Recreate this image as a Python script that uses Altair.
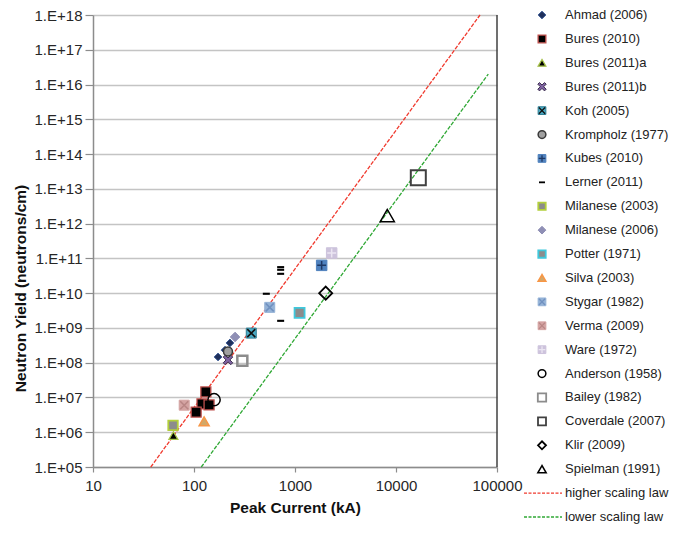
import altair as alt
import pandas as pd

# ---------------- data ----------------
series_names = [
    "Ahmad (2006)", "Bures (2010)", "Bures (2011)a", "Bures (2011)b", "Koh (2005)",
    "Krompholz (1977)", "Kubes (2010)", "Lerner (2011)", "Milanese (2003)", "Milanese (2006)",
    "Potter (1971)", "Silva (2003)", "Stygar (1982)", "Verma (2009)", "Ware (1972)",
    "Anderson (1958)", "Bailey (1982)", "Coverdale (2007)", "Klir (2009)", "Spielman (1991)",
]
# peak current (kA) per series
point_current = [
    [173, 203, 227],
    [131, 120, 141, 105],
    [62.5],
    [217],
    [369],
    [217],
    [1836],
    [520, 721, 721, 721, 721],
    [62],
    [255],
    [1110],
    [126],
    [562],
    [80],
    [2307],
    [158],
    [301],
    [16630],
    [2014],
    [8200],
]
# neutron yield (neutrons/cm) per series
point_yield = [
    [1.46e8, 2.3e8, 3.7e8],
    [1.44e7, 6.5e6, 6.1e6, 3.8e6],
    [8.0e5],
    [1.2e8],
    [7.1e8],
    [2.1e8],
    [6.3e10],
    [9.6e9, 1.6e9, 3.6e10, 4.7e10, 5.6e10],
    [1.58e6],
    [5.5e8],
    [2.7e9],
    [2.06e6],
    [3.9e9],
    [6.0e6],
    [1.43e11],
    [8.6e6],
    [1.14e8],
    [2.1e13],
    [1.0e10],
    [1.7e12],
]
law_names = ["higher scaling law", "lower scaling law"]
law_current = [[37.3, 67900], [118, 82000]]
law_yield = [[1e5, 1e18], [1e5, 2e16]]

x_ticks = [10, 100, 1000, 10000, 100000]
y_ticks = [10 ** k for k in range(5, 19)]

# ---------------- tables ----------------
rows = []
for s, xs, ys in zip(series_names, point_current, point_yield):
    for a, b in zip(xs, ys):
        rows.append({"series": s, "current": a, "yield": b})
pts_df = pd.DataFrame(rows)

lrows = []
for s, xs, ys in zip(law_names, law_current, law_yield):
    for a, b in zip(xs, ys):
        lrows.append({"series": s, "current": a, "yield": b})
law_df = pd.DataFrame(lrows)

legend_names = series_names + law_names
legend_df = pd.DataFrame({"series": legend_names})
edge_df = pd.DataFrame({"edge": [1]})

# ---------------- styles ----------------
X_FILLED = "M-1,-0.6L-0.6,-1L0,-0.4L0.6,-1L1,-0.6L0.4,0L1,0.6L0.6,1L0,0.4L-0.6,1L-1,0.6L-0.4,0Z"
DASH = "M-1,-0.3L1,-0.3L1,0.3L-1,0.3Z"
X_LINES = "M-0.8,-0.8L0.8,0.8M-0.8,0.8L0.8,-0.8"
PLUS_LINES = "M-0.85,0L0.85,0M0,-0.85L0,0.85"

styles = {
    "Ahmad (2006)": dict(shape="diamond", fill="#1f2f5a", stroke="#3a5a96", sw=1, size=60, lsize=60),
    "Bures (2010)": dict(shape="square", fill="#000000", stroke="#c0504d", sw=1.3, size=100, lsize=60),
    "Bures (2011)a": dict(shape="triangle-up", fill="#000000", stroke="#a8c44a", sw=1.3, size=80, lsize=60),
    "Bures (2011)b": dict(shape=X_FILLED, fill="#8064a2", stroke="#3a2d4d", sw=1, size=90, lsize=70),
    "Koh (2005)": dict(shape="square", fill="#4bacc6", stroke="#2f7f95", sw=1, size=100, lsize=60, ov=(X_LINES, "#111111")),
    "Krompholz (1977)": dict(shape="circle", fill="#a0a0a0", stroke="#3a3a3a", sw=1.5, size=80, lsize=60),
    "Kubes (2010)": dict(shape="square", fill="#4f81bd", stroke="#4f81bd", sw=1, size=110, lsize=60, ov=(PLUS_LINES, "#1f3864")),
    "Lerner (2011)": dict(shape=DASH, fill="#000000", stroke="#000000", sw=0, size=49, lsize=36),
    "Milanese (2003)": dict(shape="square", fill="#8c8c8c", stroke="#b3cf3c", sw=1.8, size=90, lsize=55),
    "Milanese (2006)": dict(shape="diamond", fill="#8f8fb5", stroke="#8f8fb5", sw=1, size=90, lsize=60),
    "Potter (1971)": dict(shape="square", fill="#8c8c8c", stroke="#3fc8dc", sw=1.8, size=100, lsize=55),
    "Silva (2003)": dict(shape="triangle-up", fill="#d2a868", stroke="#f79646", sw=1.5, size=100, lsize=60),
    "Stygar (1982)": dict(shape="square", fill="#95b3d7", stroke="#95b3d7", sw=1, size=100, lsize=60, ov=(X_LINES, "#7191c0")),
    "Verma (2009)": dict(shape="square", fill="#d4a3a2", stroke="#d4a3a2", sw=1, size=100, lsize=60, ov=(X_LINES, "#b88584")),
    "Ware (1972)": dict(shape="square", fill="#cdc3dc", stroke="#cdc3dc", sw=1, size=110, lsize=60, ov=(PLUS_LINES, "#ebe6f2")),
    "Anderson (1958)": dict(shape="circle", fill=None, stroke="#000000", sw=1.5, size=150, lsize=60),
    "Bailey (1982)": dict(shape="square", fill=None, stroke="#8c8c8c", sw=2.5, size=100, lsize=70),
    "Coverdale (2007)": dict(shape="square", fill=None, stroke="#404040", sw=2, size=225, lsize=64),
    "Klir (2009)": dict(shape="diamond", fill=None, stroke="#000000", sw=1.8, size=170, lsize=64),
    "Spielman (1991)": dict(shape="triangle-up", fill=None, stroke="#000000", sw=1.5, size=200, lsize=70),
}
law_styles = {
    "higher scaling law": "#f03a2e",
    "lower scaling law": "#2fa834",
}

FONT = "Liberation Sans"

# ---------------- scales / axes ----------------
X = alt.X(
    "current:Q",
    scale=alt.Scale(type="log", domain=[10, 100000], nice=False),
    axis=alt.Axis(
        values=x_ticks, format="d", title="Peak Current (kA)", grid=False,
        tickSize=5, labelPadding=6, titlePadding=7, labelFlush=False,
    ),
)
Y = alt.Y(
    "yield:Q",
    scale=alt.Scale(type="log", domain=[100000, 10 ** 18], nice=False),
    axis=alt.Axis(
        values=y_ticks,
        labelExpr="'1.E+' + (round(log(datum.value)/LN10) < 10 ? '0' : '') + round(log(datum.value)/LN10)",
        title="Neutron Yield (neutrons/cm)", grid=True, tickSize=8, labelPadding=3, labelFlush=False,
        titleX=-73, titleY=273, titleBaseline="middle", titleAngle=270,
    ),
)
LY = alt.Y(
    "series:N",
    sort=legend_names,
    scale=alt.Scale(type="point", domain=legend_names, range=[0, 502], padding=0),
    axis=None,
)

# ---------------- main layers ----------------
main_layers = []
for name in law_names:
    main_layers.append(
        alt.Chart(law_df)
        .transform_filter(alt.datum.series == name)
        .mark_line(color=law_styles[name], strokeWidth=1.3, strokeDash=[4, 1.5])
        .encode(x=X, y=Y)
    )

for name in series_names:
    st = styles[name]
    kw = dict(shape=st["shape"], size=st["size"], stroke=st["stroke"], strokeWidth=st["sw"], opacity=1)
    if st["fill"] is None:
        mk = alt.Chart(pts_df).mark_point(filled=False, **kw)
    else:
        mk = alt.Chart(pts_df).mark_point(filled=True, fill=st["fill"], **kw)
    main_layers.append(mk.transform_filter(alt.datum.series == name).encode(x=X, y=Y))
    if "ov" in st:
        path, col = st["ov"]
        main_layers.append(
            alt.Chart(pts_df)
            .transform_filter(alt.datum.series == name)
            .mark_point(filled=False, shape=path, size=st["size"], stroke=col, strokeWidth=1.5, opacity=1)
            .encode(x=X, y=Y)
        )

main_layers.append(
    alt.Chart(edge_df).mark_rule(color="#404040", strokeWidth=1.5).encode(x=alt.datum(100000))
)
main = alt.layer(*main_layers)

# ---------------- legend layers ----------------
SYM_X = 449
leg_layers = []
for name in series_names:
    st = styles[name]
    kw = dict(shape=st["shape"], size=st["lsize"], stroke=st["stroke"], strokeWidth=min(st["sw"], 1.8), opacity=1)
    if st["fill"] is None:
        mk = alt.Chart(legend_df).mark_point(filled=False, **kw)
    else:
        mk = alt.Chart(legend_df).mark_point(filled=True, fill=st["fill"], **kw)
    leg_layers.append(mk.transform_filter(alt.datum.series == name).encode(x=alt.value(SYM_X), y=LY))
    if "ov" in st:
        path, col = st["ov"]
        leg_layers.append(
            alt.Chart(legend_df)
            .transform_filter(alt.datum.series == name)
            .mark_point(filled=False, shape=path, size=st["lsize"], stroke=col, strokeWidth=1.3, opacity=1)
            .encode(x=alt.value(SYM_X), y=LY)
        )
for name in law_names:
    leg_layers.append(
        alt.Chart(legend_df)
        .transform_filter(alt.datum.series == name)
        .mark_rule(color=law_styles[name], strokeWidth=1.3, strokeDash=[3, 1.5])
        .encode(x=alt.value(431), x2=alt.value(469), y=LY)
    )
leg_layers.append(
    alt.Chart(legend_df)
    .mark_text(align="left", baseline="middle", fontSize=13, font=FONT, color="#222222")
    .encode(x=alt.value(472), y=LY, text="series:N")
)
legend = alt.layer(*leg_layers)

chart = (
    alt.layer(main, legend)
    .resolve_scale(y="independent")
    .properties(width=404, height=452, padding={"left": 5, "top": 0, "right": 0, "bottom": 0})
    .configure(font=FONT)
    .configure_view(stroke=None)
    .configure_axis(
        labelFont=FONT, titleFont=FONT, labelFontSize=15, titleFontSize=15.5,
        labelColor="#262626", titleColor="#111111", titleFontWeight="bold",
        domainColor="#8c8c8c", domainWidth=1.5, tickColor="#8c8c8c", tickWidth=1.2,
        gridColor="#c4c4c4", gridWidth=1.5,
    )
)

chart.save("out.html", embed_options={"renderer": "svg", "actions": False})
